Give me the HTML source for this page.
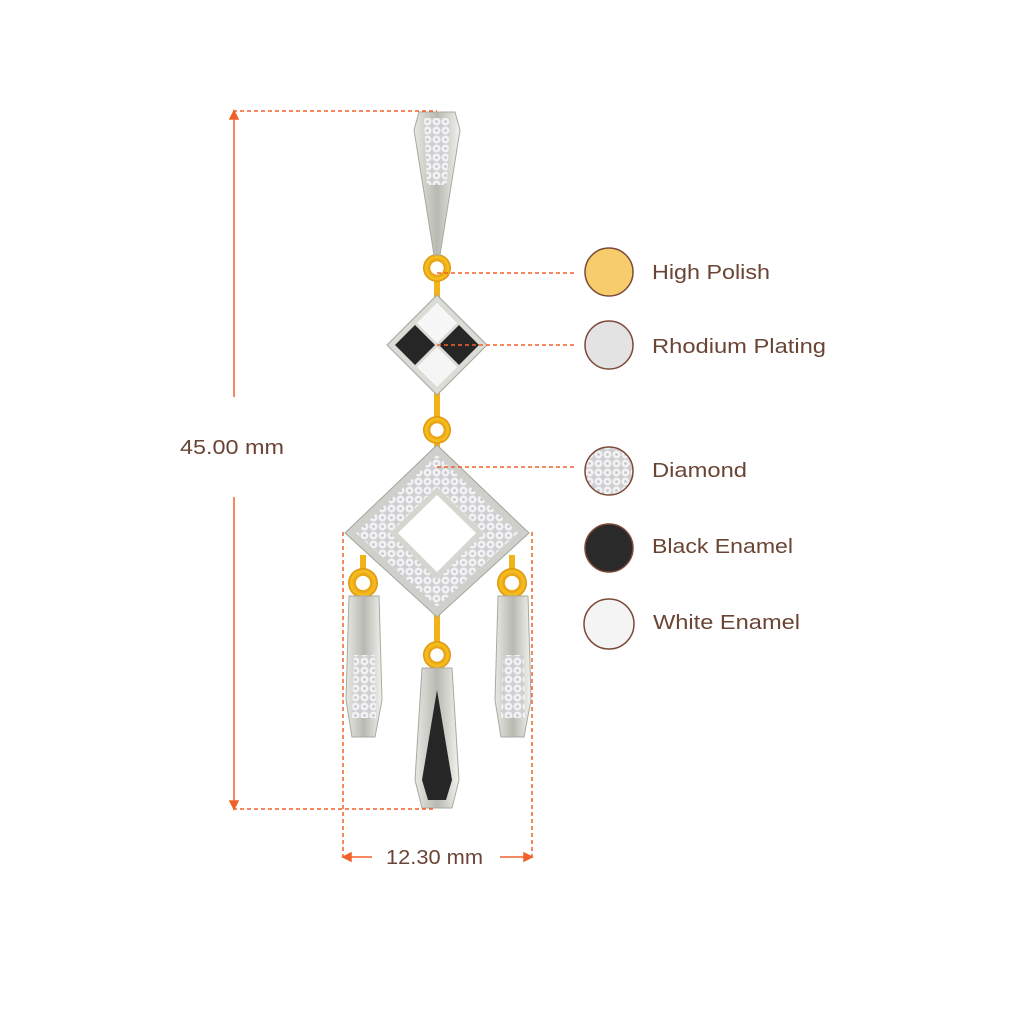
<!DOCTYPE html>
<html><head><style>body{margin:0;background:#fff}svg{display:block}</style></head><body>
<svg width="1024" height="1024" viewBox="0 0 1024 1024" xmlns="http://www.w3.org/2000/svg" font-family="Liberation Sans, sans-serif">
<defs>
<linearGradient id="met" x1="0" x2="1"><stop offset="0" stop-color="#e8e8e4"/><stop offset=".5" stop-color="#b9b9b2"/><stop offset="1" stop-color="#f2f2ee"/></linearGradient>
<radialGradient id="gold"><stop offset=".45" stop-color="#fff"/><stop offset=".5" stop-color="#e79d12"/><stop offset=".8" stop-color="#f7c21e"/><stop offset="1" stop-color="#d98c0c"/></radialGradient>
<pattern id="dia" width="9" height="9" patternUnits="userSpaceOnUse"><rect width="9" height="9" fill="#cfcfd0"/><circle cx="4.5" cy="4.5" r="4" fill="#f2f2f4"/><circle cx="4.5" cy="4.5" r="1.3" fill="#c0c0c8"/></pattern>
</defs>
<g stroke="#f0602a" stroke-width="1.5" fill="#f0602a">
<line x1="234" y1="113" x2="234" y2="397"/><line x1="234" y1="497" x2="234" y2="807"/>
<path d="M230 119 L234 111 L238 119Z"/><path d="M230 801 L234 809 L238 801Z"/>
<line x1="345" y1="857" x2="372" y2="857"/><line x1="500" y1="857" x2="530" y2="857"/>
<path d="M351 853 L343 857 L351 861Z"/><path d="M524 853 L532 857 L524 861Z"/>
</g>
<g fill="#6a4434" font-size="20">
<text x="180" y="454" textLength="104" lengthAdjust="spacingAndGlyphs">45.00 mm</text>
<text x="386" y="864" textLength="97" lengthAdjust="spacingAndGlyphs">12.30 mm</text>
<text x="652" y="279" textLength="118" lengthAdjust="spacingAndGlyphs">High Polish</text>
<text x="652" y="353" textLength="174" lengthAdjust="spacingAndGlyphs">Rhodium Plating</text>
<text x="652" y="477" textLength="95" lengthAdjust="spacingAndGlyphs">Diamond</text>
<text x="652" y="553" textLength="141" lengthAdjust="spacingAndGlyphs">Black Enamel</text>
<text x="653" y="629" textLength="147" lengthAdjust="spacingAndGlyphs">White Enamel</text>
</g>
<g stroke="#7a4a36" stroke-width="1.5">
<circle cx="609" cy="272" r="24" fill="#f6cc6c"/>
<circle cx="609" cy="345" r="24" fill="#e3e3e3"/>
<circle cx="609" cy="471" r="24" fill="url(#dia)"/>
<circle cx="609" cy="548" r="24" fill="#2a2a2a"/>
<circle cx="609" cy="624" r="25" fill="#f4f4f4"/>
</g>
<!-- jewelry -->
<rect x="434" y="250" width="6" height="200" fill="#f1b31a"/>
<rect x="434" y="600" width="6" height="60" fill="#f1b31a"/>
<rect x="360" y="555" width="6" height="30" fill="#f1b31a"/><rect x="509" y="555" width="6" height="30" fill="#f1b31a"/>
<circle cx="437" cy="268" r="14" fill="url(#gold)"/>
<circle cx="437" cy="430" r="14" fill="url(#gold)"/>
<circle cx="437" cy="655" r="14" fill="url(#gold)"/>
<circle cx="363" cy="583" r="15" fill="url(#gold)"/>
<circle cx="512" cy="583" r="15" fill="url(#gold)"/>
<path d="M419 112 L455 112 L460 130 L440 255 L434 255 L414 130Z" fill="url(#met)" stroke="#a9a9a2"/>
<path d="M424 118 L450 118 L447 185 L427 185Z" fill="url(#dia)"/>
<path d="M437 295 L487 345 L437 395 L387 345Z" fill="#dcdcd6" stroke="#a5a59e"/>
<path d="M437 303 L457 323 L437 343 L417 323Z" fill="#f7f7f7"/>
<path d="M437 347 L457 367 L437 387 L417 367Z" fill="#f5f5f5"/>
<path d="M415 325 L435 345 L415 365 L395 345Z" fill="#262626"/>
<path d="M459 325 L479 345 L459 365 L439 345Z" fill="#262626"/>
<path d="M437 445 L529 533 L437 617 L345 533Z" fill="#cfcfcb" stroke="#a5a59e"/>
<path d="M437 455 L518 533 L437 607 L356 533Z" fill="url(#dia)"/>
<path d="M437 487 L484 533 L437 580 L390 533Z" fill="#d6d6d0"/>
<path d="M437 495 L476 533 L437 572 L398 533Z" fill="#fff"/>
<path d="M349 596 L379 596 L382 700 L375 737 L352 737 L346 700Z" fill="url(#met)" stroke="#a9a9a2"/>
<path d="M354 655 L375 655 L376 718 L352 718Z" fill="url(#dia)"/>
<path d="M498 596 L528 596 L531 700 L524 737 L501 737 L495 700Z" fill="url(#met)" stroke="#a9a9a2"/>
<path d="M503 655 L524 655 L525 718 L501 718Z" fill="url(#dia)"/>
<path d="M422 668 L452 668 L459 780 L452 808 L422 808 L415 780Z" fill="url(#met)" stroke="#a9a9a2"/>
<path d="M437 690 L452 780 L446 800 L428 800 L422 780Z" fill="#262626"/>
<g stroke="#f0602a" stroke-width="1.5" stroke-dasharray="4 3" fill="none">
<line x1="233" y1="111" x2="437" y2="111"/>
<line x1="233" y1="809" x2="436" y2="809"/>
<line x1="343" y1="532" x2="343" y2="858"/>
<line x1="532" y1="532" x2="532" y2="858"/>
<line x1="437" y1="273" x2="575" y2="273"/>
<line x1="437" y1="345" x2="575" y2="345"/>
<line x1="437" y1="467" x2="575" y2="467"/>
</g>
</svg>
</body></html>
